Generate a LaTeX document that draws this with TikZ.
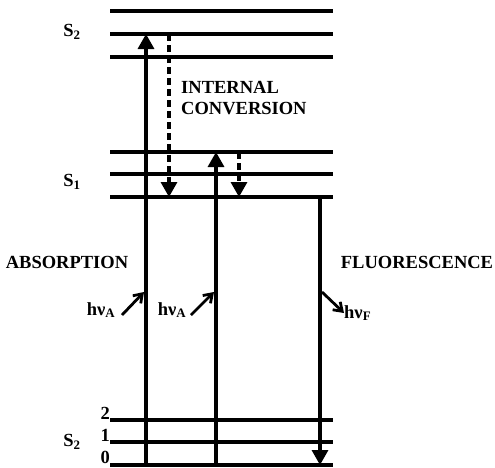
\documentclass[tikz,border=0pt]{standalone}
\usepackage{fontspec}
\setmainfont{Liberation Serif}
\usetikzlibrary{arrows.meta}
\newcommand\lsub[1]{\textsubscript{#1}}
\begin{document}
\begin{tikzpicture}[x=1pt,y=-1pt,
  level/.style={line width=3.2pt},
  trans/.style={line width=3.2pt,-{Triangle[width=16pt,length=15pt]}},
  ic/.style={trans,dash pattern=on 7pt off 4pt},
  photon/.style={line width=2.8pt,-{Straight Barb[length=8pt,width=11pt]}},
  lbl/.style={font=\fontsize{18.5}{21}\selectfont\bfseries,inner sep=0pt}]
\useasboundingbox (0,0) rectangle (495,467);
% level end points
\foreach \n/\y in {t1/11,t2/34,t3/57,m1/152,m2/174,m3/197,b2/420,b1/442,b0/465}{
  \coordinate (\n L) at (110,\y);
  \coordinate (\n R) at (333,\y);
  \draw[level] (\n L) -- (\n R);
}
% transition end points
\coordinate (a1s) at (146,465); \coordinate (a1e) at (146,34);
\coordinate (a2s) at (216,465); \coordinate (a2e) at (216,152);
\coordinate (i1s) at (169,34);  \coordinate (i1e) at (169,197);
\coordinate (i2s) at (239,152); \coordinate (i2e) at (239,197);
\coordinate (fs) at (320,197);  \coordinate (fe) at (320,465);
\draw[trans] (a1s) -- (a1e);
\draw[trans] (a2s) -- (a2e);
\draw[ic] (i1s) -- (i1e);
\draw[ic] (i2s) -- (i2e);
\draw[trans] (fs) -- (fe);
% photons
\coordinate (p1s) at (122,315); \coordinate (p1e) at (144,292);
\coordinate (p2s) at (191,315); \coordinate (p2e) at (214,292);
\coordinate (p3s) at (322,292); \coordinate (p3e) at (344,313);
\draw[photon] (p1s) -- (p1e);
\draw[photon] (p2s) -- (p2e);
\draw[photon] (p3s) -- (p3e);
% labels
\node[lbl] (s2top) at (72,32) {S\lsub{2}};
\node[lbl] (s1) at (72,182) {S\lsub{1}};
\node[lbl,anchor=west] (ic1) at (181,87) {INTERNAL};
\node[lbl,anchor=west] (ic2) at (181,109) {CONVERSION};
\node[lbl] (abs) at (67,262) {ABSORPTION};
\node[lbl] (flu) at (417,262) {FLUORESCENCE};
\node[lbl] (hA1) at (101,310) {hν\lsub{A}};
\node[lbl] (hA2) at (172,310) {hν\lsub{A}};
\node[lbl,anchor=west] (hF) at (344,313) {hν\lsub{F}};
\node[lbl,anchor=base east] (v2) at (110,419) {2};
\node[lbl,anchor=base east] (v1) at (110,441) {1};
\node[lbl,anchor=base east] (v0) at (110,463) {0};
\node[lbl] (s2bot) at (72,442) {S\lsub{2}};
\end{tikzpicture}
\end{document}
